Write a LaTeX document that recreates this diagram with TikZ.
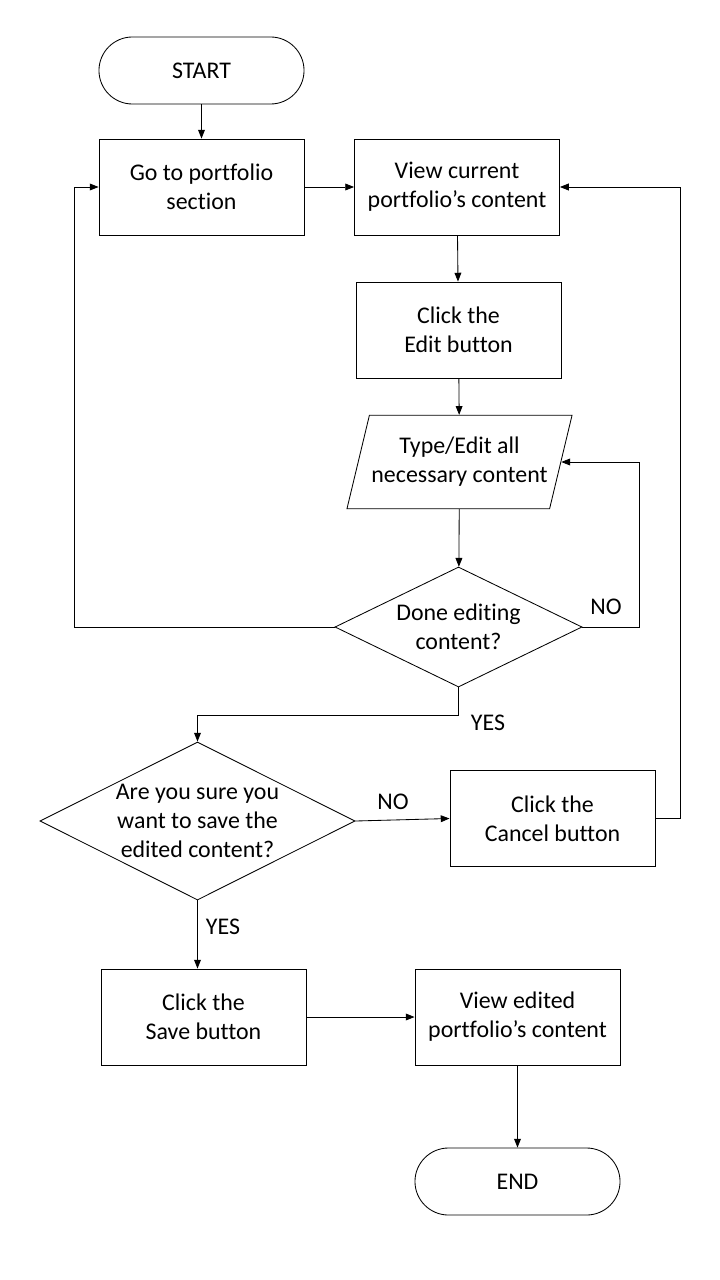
\documentclass[tikz,border=0pt]{standalone}
\usepackage{fontspec}
\setmainfont{Carlito}[Ligatures=NoCommon]
\usetikzlibrary{shapes.geometric,arrows.meta}
\begin{document}
\begin{tikzpicture}[x=0.025cm,y=-0.025cm,
font=\fontsize{17}{20.6}\selectfont,
>={Triangle[length=2.2mm,width=1.7mm]},
line width=0.6pt,
square/.style={
% The box:
rectangle,
draw=black,
minimum width=5.125cm,
minimum height=2.4cm,
align=center
},
terminal/.style={
rectangle,minimum width=5.125cm,minimum height=1.675cm,rounded corners=0.8375cm,
draw=black
},
io/.style={
trapezium,trapezium left angle=76.5,trapezium right angle=103.5,
trapezium stretches body,
minimum width=5.625cm,inner xsep=0pt,inner ysep=0.55cm,
draw=black,align=center
},
decision/.style={
diamond,draw=black,inner sep=0pt,align=center
},
label/.style={inner sep=0pt}
]
\useasboundingbox (0,0) rectangle (720,1280);
% Column on the left:
\node (start) [terminal] at (201.5,70.5) {START};
\node (goto) [square] at (201.5,187) {Go to portfolio\\section};
% Middle column:
\node (viewcur) [square] at (457,187) {View current\\portfolio’s content};
\node (edit) [square] at (458.5,330) {Click the\\Edit button};
\node (type) [io] at (459.5,462) {Type/Edit all\\necessary content};
\node (done) [decision,shape aspect=2.06,minimum width=6.175cm,minimum height=3cm] at (458.5,627) {Done editing\\content?};
% Lower part:
\node (sure) [decision,shape aspect=2,minimum width=7.875cm,minimum height=3.95cm] at (197.5,821) {Are you sure you\\want to save the\\edited content?};
\node (cancel) [square] at (552.5,818.5) {Click the\\Cancel button};
\node (save) [square] at (203.5,1017) {Click the\\Save button};
\node (viewed) [square] at (517.5,1017) {View edited\\portfolio’s content};
\node (end) [terminal] at (517.5,1181.5) {END};

\draw[->] (start) -- (goto);
\draw[->] (goto) -- (viewcur);
\draw[->] (viewcur) -- (edit);
\draw[->] (edit) -- (type);
\draw[->] (type) -- (done);
\draw[->] (done.east) -- ++(57,0) |- (type.east);
\draw[->] (done.west) -- ++(-260,0) |- (goto.west);
\draw[->] (done.south) -- ++(0,28) -| (sure.north);
\draw[->] (sure.east) -- (cancel.west);
\draw[->] (cancel.east) -- ++(25,0) |- (viewcur.east);
\draw[->] (sure.south) -- (sure.south |- save.north);
\draw[->] (save) -- (viewed);
\draw[->] (viewed) -- (end);

\node (no1) [label] at (606,607) {NO};
\node (yes1) [label] at (488,723) {YES};
\node (no2) [label] at (393,802) {NO};
\node (yes2) [label] at (223,927) {YES};
\end{tikzpicture}
\end{document}
